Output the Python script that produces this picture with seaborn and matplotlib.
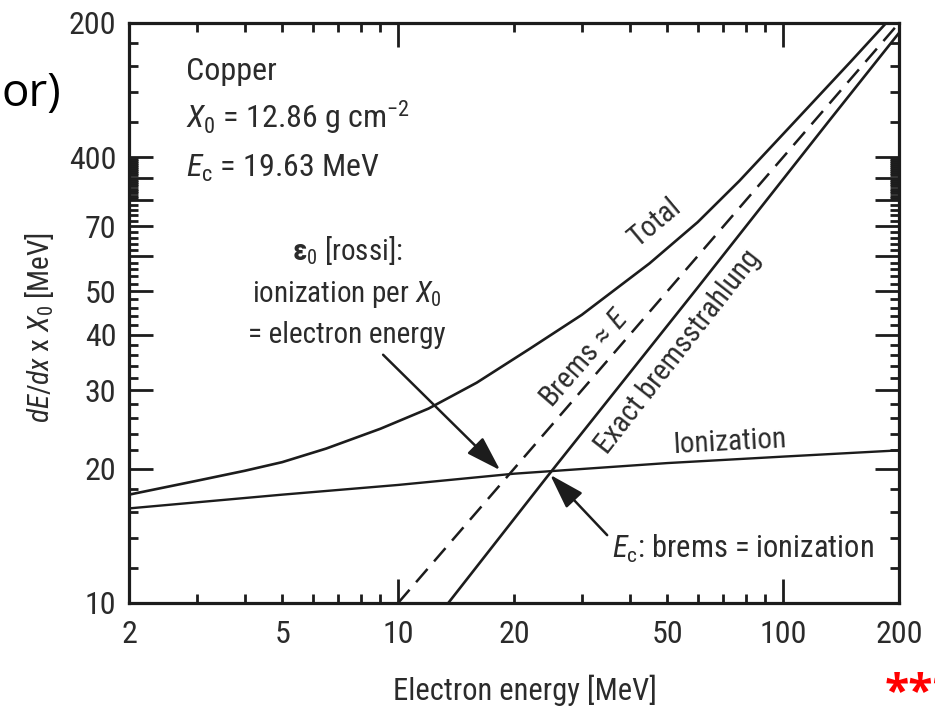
import matplotlib
matplotlib.use("Agg")
import matplotlib.pyplot as plt
import matplotlib.font_manager as fm
from matplotlib.ticker import FixedLocator, FixedFormatter
import seaborn as sns
import pandas as pd

# ---- data (Copper: energy loss per radiation length) ----
energy_ion = [2, 5, 10, 20, 50, 100, 200]
dedx_ion = [16.3, 17.5, 18.4, 19.5, 20.6, 21.3, 22.0]

energy_total = [2, 3, 4, 5, 6.5, 9, 12, 16, 22, 30, 45, 60, 77, 108, 150, 200]
dedx_total = [17.5, 18.8, 19.8, 20.7, 22.2, 24.6, 27.3, 31.2, 37.2, 44.3, 57.8, 71.5,
              88.5, 121, 164, 215]

energy_brems_exact = [13.5, 24.5, 60, 132, 200]
dedx_brems_exact = [10, 19.3, 51, 121, 190]

energy_brems_approx = [10, 200]
dedx_brems_approx = [10, 200]

x_long_ticks = [10, 100]
x_long_labels = ["10", "100"]
x_short_ticks = [2, 3, 4, 5, 6, 7, 8, 9, 20, 30, 40, 50, 60, 70, 80, 90, 200]
x_short_labels = ["2", "", "", "5", "", "", "", "", "20", "", "", "50", "", "", "", "", "200"]

y_long_ticks = [20, 30, 40, 50, 60, 70, 80, 90, 100]
y_long_labels = ["20", "30", "40", "50", "", "70", "", "", "400"]
y_short_ticks = ([10, 12, 14, 16, 18, 22, 24, 26, 28, 32, 34, 36, 38, 42, 44, 46, 48,
                  52, 54, 56, 58, 62, 64, 66, 68, 72, 74, 76, 78]
                 + [81, 82, 83, 84, 85, 86, 87, 88, 89, 91, 92, 93, 94, 95, 96, 97, 98, 99]
                 + [120, 140, 160, 180, 200])
y_short_labels = ["10"] + [""] * (len(y_short_ticks) - 2) + ["200"]


def pick_font(candidates):
    for name in candidates:
        try:
            fm.findfont(fm.FontProperties(family=name), fallback_to_default=False)
            return name
        except Exception:
            continue
    return "DejaVu Sans"


sns.set_style("ticks")
FAM = pick_font(["Liberation Sans Narrow", "Roboto Condensed", "Liberation Sans"])
plt.rcParams["font.family"] = [FAM, "DejaVu Sans"]
plt.rcParams["mathtext.fontset"] = "custom"
plt.rcParams["mathtext.rm"] = FAM
plt.rcParams["mathtext.it"] = FAM + ":italic"
plt.rcParams["mathtext.bf"] = FAM + ":bold"

INK = "#2b2b2b"
LINE = "#1c1c1c"

fig = plt.figure(figsize=(9.35, 7.09), dpi=100)
ax = fig.add_axes([129 / 935, 106 / 709, 770 / 935, 580 / 709])

df_ion = pd.DataFrame({"E": energy_ion, "v": dedx_ion})
df_tot = pd.DataFrame({"E": energy_total, "v": dedx_total})
df_bx = pd.DataFrame({"E": energy_brems_exact, "v": dedx_brems_exact})
df_ba = pd.DataFrame({"E": energy_brems_approx, "v": dedx_brems_approx})

kw = dict(ax=ax, color=LINE, estimator=None, sort=False, legend=False)
sns.lineplot(data=df_ion, x="E", y="v", lw=1.7, **kw)
sns.lineplot(data=df_tot, x="E", y="v", lw=1.9, **kw)
sns.lineplot(data=df_bx, x="E", y="v", lw=1.9, **kw)
sns.lineplot(data=df_ba, x="E", y="v", lw=1.8, linestyle=(0, (7, 4)), **kw)

ax.set_xscale("log")
ax.set_yscale("log")
ax.set_xlim(2, 200)
ax.set_ylim(10, 200)
ax.set_xlabel("")
ax.set_ylabel("")

ax.xaxis.set_major_locator(FixedLocator(x_long_ticks))
ax.xaxis.set_major_formatter(FixedFormatter(x_long_labels))
ax.xaxis.set_minor_locator(FixedLocator(x_short_ticks))
ax.xaxis.set_minor_formatter(FixedFormatter(x_short_labels))
ax.yaxis.set_major_locator(FixedLocator(y_long_ticks))
ax.yaxis.set_major_formatter(FixedFormatter(y_long_labels))
ax.yaxis.set_minor_locator(FixedLocator(y_short_ticks))
ax.yaxis.set_minor_formatter(FixedFormatter(y_short_labels))

for sp in ax.spines.values():
    sp.set_visible(True)
    sp.set_linewidth(2.3)
    sp.set_color(LINE)

ax.tick_params(which="both", direction="in", top=True, right=True,
               color=LINE, width=2.0, labelsize=23, labelcolor=INK)
ax.tick_params(which="major", length=17)
ax.tick_params(which="minor", length=6.5)
ax.tick_params(axis="x", which="both", pad=12)
ax.tick_params(axis="y", which="both", pad=9)

# ---- annotations ----
T = ax.transAxes
ax.text(0.074, 0.902, "Copper", transform=T, fontsize=23, color=INK, va="baseline")
ax.text(0.074, 0.819, r"$X_\mathrm{0}$ = 12.86 g cm$^{-2}$", transform=T, fontsize=23,
        color=INK, va="baseline")
ax.text(0.074, 0.734, r"$E_\mathrm{c}$ = 19.63 MeV", transform=T, fontsize=23,
        color=INK, va="baseline")

ax.text(0.283, 0.591, r"$\mathbf{\varepsilon}_\mathrm{0}$ [rossi]:", transform=T, fontsize=21,
        color=INK, va="baseline", ha="center")
ax.text(0.283, 0.519, r"ionization per $X_\mathrm{0}$", transform=T, fontsize=21,
        color=INK, va="baseline", ha="center")
ax.text(0.283, 0.448, r"= electron energy", transform=T, fontsize=21,
        color=INK, va="baseline", ha="center")

ax.text(0.683, 0.655, "Total", transform=T, fontsize=21, color=INK, rotation=40,
        ha="center", va="center", rotation_mode="anchor")
ax.text(0.592, 0.422, r"Brems$\,\approx\,$$E$", transform=T, fontsize=21, color=INK,
        rotation=49, ha="center", va="center", rotation_mode="anchor")
ax.text(0.713, 0.433, "Exact bremsstrahlung", transform=T, fontsize=21, color=INK,
        rotation=52, ha="center", va="center", rotation_mode="anchor")
ax.text(0.781, 0.278, "Ionization", transform=T, fontsize=21, color=INK, rotation=3,
        ha="center", va="center", rotation_mode="anchor")
ax.text(0.627, 0.078, r"$E_\mathrm{c}$: brems = ionization", transform=T, fontsize=22,
        color=INK, va="baseline")

arrow = dict(arrowstyle="-|>,head_length=1.2,head_width=0.38", color=LINE, lw=1.8,
             mutation_scale=18, shrinkA=0, shrinkB=0)
ax.annotate("", xy=(0.482, 0.229), xytext=(0.330, 0.428), xycoords=T, textcoords=T,
            arrowprops=arrow)
ax.annotate("", xy=(0.547, 0.221), xytext=(0.621, 0.117), xycoords=T, textcoords=T,
            arrowprops=arrow)

fig.text(40 / 935, 1 - 328 / 709, r"$dE/dx$ x $X_\mathrm{0}$ [MeV]", rotation=90,
         fontsize=21, color=INK, ha="center", va="center")
fig.text(525 / 935, 1 - 690 / 709, "Electron energy [MeV]", fontsize=22, color=INK,
         ha="center", va="center")

fig.text(1 / 935, 1 - 106 / 709, "or)", fontsize=33, color="black", ha="left",
         va="baseline", family=["Open Sans", "DejaVu Sans"])
fig.text(885 / 935, 1 - 705 / 709, "***", fontsize=32, color="#ff0000", ha="left",
         va="baseline", fontweight="bold", family=["Open Sans", "DejaVu Sans"])

fig.savefig("out.png", dpi=100)
